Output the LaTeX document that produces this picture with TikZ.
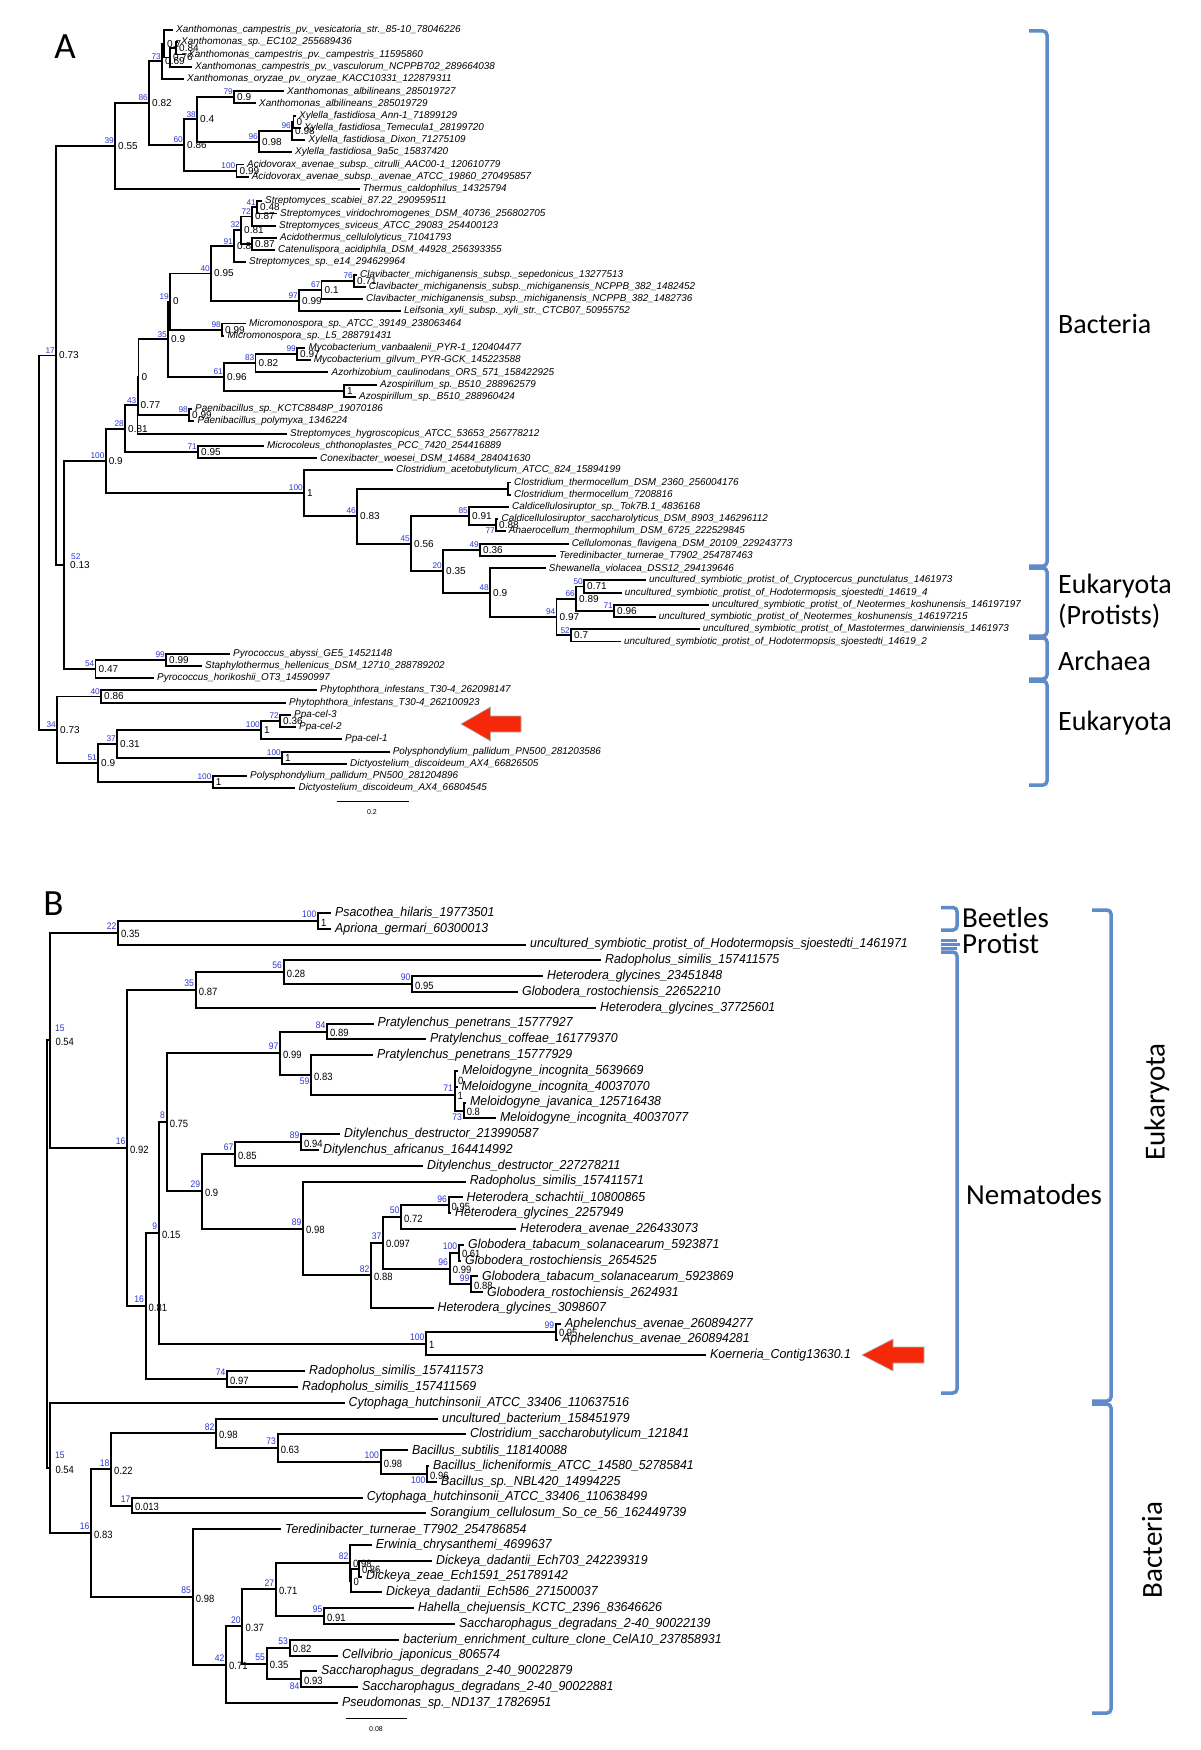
\documentclass[tikz,border=0pt]{standalone}
\usepackage{fontspec}
\setmainfont{Liberation Sans}
\newfontfamily\lsA{Liberation Sans}
\newfontfamily\lsB[FakeStretch=0.95]{Liberation Sans}
\newfontfamily\lsN[FakeStretch=0.9]{Liberation Sans}
\newfontfamily\calib{Carlito}
\definecolor{bslab}{RGB}{45,55,215}
\definecolor{brkc}{RGB}{95,140,200}
\definecolor{arrred}{RGB}{246,40,10}
\tikzset{
 brA/.style={line width=1.9pt,line cap=rect},
 brB/.style={line width=2pt,line cap=rect},
 leafa/.style={anchor=west,inner sep=0pt,xshift=4pt,font=\lsA\fontsize{9.9}{10}\selectfont\itshape},
 leafb/.style={anchor=west,inner sep=0pt,xshift=5pt,font=\lsB\fontsize{13}{13}\selectfont\itshape},
 bsa/.style={anchor=south east,inner sep=0pt,xshift=-1pt,yshift=2pt,text=bslab,font=\lsA\fontsize{8.3}{8.3}\selectfont},
 ppa/.style={anchor=west,inner sep=0pt,xshift=3pt,font=\lsA\fontsize{10}{10}\selectfont},
 bsb/.style={anchor=south east,inner sep=0pt,xshift=-1.5pt,yshift=3pt,text=bslab,font=\lsN\fontsize{9.5}{9.5}\selectfont},
 ppb/.style={anchor=west,inner sep=0pt,xshift=3pt,yshift=-1.5pt,font=\lsN\fontsize{10.5}{10.5}\selectfont},
 grpa/.style={inner sep=0pt,font=\calib\fontsize{28}{31}\selectfont},
 grpb/.style={inner sep=0pt,font=\calib\fontsize{29}{31}\selectfont},
 brk/.style={draw=brkc,line width=3.5pt,rounded corners=4pt},
 arr/.style={fill=arrred,draw=black!30,line width=0.6pt},
 bso/.style={},ppo/.style={}
}
\newcommand\tleaf[4]{%
  \pgfmathsetmacro\yy{\rowzero+(#3-1)*\rowstep}%
  \expandafter\xdef\csname Y@#1\endcsname{\yy}%
  \coordinate (#1) at (#2,\yy);%
  \node[leaf] (#1l) at (#1) {#4};%
}
\newcommand\tnode[8][]{%
  \tikzset{bso/.style={},ppo/.style={},#1}%
  \edef\ya{\csname Y@#4\endcsname}\edef\yb{\csname Y@#5\endcsname}%
  \pgfmathsetmacro\yy{(\ya+\yb)/2}%
  \expandafter\xdef\csname Y@#2\endcsname{\yy}%
  \coordinate (#2) at (#3,\yy);%
  \draw[br] (#2 |- #4) -- (#2 |- #5);%
  \foreach \ch in {#6}{\draw[br] (#2 |- \ch) -- (\ch);}%
  \def\tmp{#7}\ifx\tmp\empty\else\node[bs,bso] (#2b) at (#2) {#7};\fi
  \def\tmp{#8}\ifx\tmp\empty\else\node[pp,ppo] (#2p) at (#2) {#8};\fi
}
\begin{document}
\begin{tikzpicture}[x=1pt,y=-1pt]
\fill[white] (0,0) rectangle (1200,1750);
\useasboundingbox (0,0) rectangle (1200,1750);

% ================= PANEL A =================
\def\rowzero{30}\def\rowstep{12.23}
\tikzset{leaf/.style={leafa},bs/.style={bsa},pp/.style={ppa},br/.style={brA}}
\node[inner sep=0pt,font=\calib\fontsize{37}{37}\selectfont] (labA) at (65,47) {A};

\tleaf{a1}{172}{1}{Xanthomonas\_campestris\_pv.\_vesicatoria\_str.\_85-10\_78046226}
\tleaf{a2}{177}{2}{Xanthomonas\_sp.\_EC102\_255689436}
\tleaf{a3}{184}{3}{Xanthomonas\_campestris\_pv.\_campestris\_11595860}
\tleaf{a4}{191}{4}{Xanthomonas\_campestris\_pv.\_vasculorum\_NCPPB702\_289664038}
\tleaf{a5}{183}{5}{Xanthomonas\_oryzae\_pv.\_oryzae\_KACC10331\_122879311}
\tleaf{a6}{283}{6}{Xanthomonas\_albilineans\_285019727}
\tleaf{a7}{255}{7}{Xanthomonas\_albilineans\_285019729}
\tleaf{a8}{295}{8}{Xylella\_fastidiosa\_Ann-1\_71899129}
\tleaf{a9}{300}{9}{Xylella\_fastidiosa\_Temecula1\_28199720}
\tleaf{a10}{304.5}{10}{Xylella\_fastidiosa\_Dixon\_71275109}
\tleaf{a11}{291}{11}{Xylella\_fastidiosa\_9a5c\_15837420}
\tleaf{a12}{243}{12}{Acidovorax\_avenae\_subsp.\_citrulli\_AAC00-1\_120610779}
\tleaf{a13}{247.6}{13}{Acidovorax\_avenae\_subsp.\_avenae\_ATCC\_19860\_270495857}
\tleaf{a14}{358.7}{14}{Thermus\_caldophilus\_14325794}
\tleaf{a15}{261}{15}{Streptomyces\_scabiei\_87.22\_290959511}
\tleaf{a16}{276}{16}{Streptomyces\_viridochromogenes\_DSM\_40736\_256802705}
\tleaf{a17}{275}{17}{Streptomyces\_sviceus\_ATCC\_29083\_254400123}
\tleaf{a18}{276}{18}{Acidothermus\_cellulolyticus\_71041793}
\tleaf{a19}{274}{19}{Catenulispora\_acidiphila\_DSM\_44928\_256393355}
\tleaf{a20}{245}{20}{Streptomyces\_sp.\_e14\_294629964}
\tleaf{a21}{356}{21}{Clavibacter\_michiganensis\_subsp.\_sepedonicus\_13277513}
\tleaf{a22}{364.7}{22}{Clavibacter\_michiganensis\_subsp.\_michiganensis\_NCPPB\_382\_1482452}
\tleaf{a23}{362}{23}{Clavibacter\_michiganensis\_subsp.\_michiganensis\_NCPPB\_382\_1482736}
\tleaf{a24}{400}{24}{Leifsonia\_xyli\_subsp.\_xyli\_str.\_CTCB07\_50955752}
\tleaf{a25}{245}{25}{Micromonospora\_sp.\_ATCC\_39149\_238063464}
\tleaf{a26}{223.5}{26}{Micromonospora\_sp.\_L5\_288791431}
\tleaf{a27}{304.5}{27}{Mycobacterium\_vanbaalenii\_PYR-1\_120404477}
\tleaf{a28}{309.6}{28}{Mycobacterium\_gilvum\_PYR-GCK\_145223588}
\tleaf{a29}{327.5}{29}{Azorhizobium\_caulinodans\_ORS\_571\_158422925}
\tleaf{a30}{376}{30}{Azospirillum\_sp.\_B510\_288962579}
\tleaf{a31}{355}{31}{Azospirillum\_sp.\_B510\_288960424}
\tleaf{a32}{191}{32}{Paenibacillus\_sp.\_KCTC8848P\_19070186}
\tleaf{a33}{193.4}{33}{Paenibacillus\_polymyxa\_1346224}
\tleaf{a34}{286}{34}{Streptomyces\_hygroscopicus\_ATCC\_53653\_256778212}
\tleaf{a35}{263}{35}{Microcoleus\_chthonoplastes\_PCC\_7420\_254416889}
\tleaf{a36}{316}{36}{Conexibacter\_woesei\_DSM\_14684\_284041630}
\tleaf{a37}{392}{37}{Clostridium\_acetobutylicum\_ATCC\_824\_15894199}
\tleaf{a38}{510}{38}{Clostridium\_thermocellum\_DSM\_2360\_256004176}
\tleaf{a39}{510}{39}{Clostridium\_thermocellum\_7208816}
\tleaf{a40}{508}{40}{Caldicellulosiruptor\_sp.\_Tok7B.1\_4836168}
\tleaf{a41}{497.5}{41}{Caldicellulosiruptor\_saccharolyticus\_DSM\_8903\_146296112}
\tleaf{a42}{504.7}{42}{Anaerocellum\_thermophilum\_DSM\_6725\_222529845}
\tleaf{a43}{567.6}{43}{Cellulomonas\_flavigena\_DSM\_20109\_229243773}
\tleaf{a44}{555}{44}{Teredinibacter\_turnerae\_T7902\_254787463}
\tleaf{a45}{544.7}{45}{Shewanella\_violacea\_DSS12\_294139646}
\tleaf{a46}{645}{46}{uncultured\_symbiotic\_protist\_of\_Cryptocercus\_punctulatus\_1461973}
\tleaf{a47}{620.7}{47}{uncultured\_symbiotic\_protist\_of\_Hodotermopsis\_sjoestedti\_14619\_4}
\tleaf{a48}{708}{48}{uncultured\_symbiotic\_protist\_of\_Neotermes\_koshunensis\_146197197}
\tleaf{a49}{654.7}{49}{uncultured\_symbiotic\_protist\_of\_Neotermes\_koshunensis\_146197215}
\tleaf{a50}{698.7}{50}{uncultured\_symbiotic\_protist\_of\_Mastotermes\_darwiniensis\_1461973}
\tleaf{a51}{620}{51}{uncultured\_symbiotic\_protist\_of\_Hodotermopsis\_sjoestedti\_14619\_2}
\tleaf{a52}{229}{52}{Pyrococcus\_abyssi\_GE5\_14521148}
\tleaf{a53}{201}{53}{Staphylothermus\_hellenicus\_DSM\_12710\_288789202}
\tleaf{a54}{153}{54}{Pyrococcus\_horikoshii\_OT3\_14590997}
\tleaf{a55}{316}{55}{Phytophthora\_infestans\_T30-4\_262098147}
\tleaf{a56}{285}{56}{Phytophthora\_infestans\_T30-4\_262100923}
\tleaf{a57}{290}{57}{Ppa-cel-3}
\tleaf{a58}{295}{58}{Ppa-cel-2}
\tleaf{a59}{341}{59}{Ppa-cel-1}
\tleaf{a60}{388.6}{60}{Polysphondylium\_pallidum\_PN500\_281203586}
\tleaf{a61}{346}{61}{Dictyostelium\_discoideum\_AX4\_66826505}
\tleaf{a62}{246}{62}{Polysphondylium\_pallidum\_PN500\_281204896}
\tleaf{a63}{294.4}{63}{Dictyostelium\_discoideum\_AX4\_66804545}

\tnode{pW}{176}{a2}{a3}{a2,a3}{}{0.84}
\tnode{pX}{170}{pW}{a4}{pW,a4}{}{0.76}
\tnode{pY}{164}{a1}{pX}{a1,pX}{}{0.7}
\tnode{p73}{162}{pY}{a5}{pY,a5}{73}{0.69}
\tnode{p79}{234}{a6}{a7}{a6,a7}{79}{0.9}
\tnode{pC1}{293.5}{a8}{a9}{a8,a9}{}{0}
\tnode{p96b}{292}{pC1}{a10}{pC1,a10}{96}{0.98}
\tnode{p96a}{259}{p96b}{a11}{p96b,a11}{96}{0.98}
\tnode{p38}{197}{p79}{p96a}{p79,p96a}{38}{0.4}
\tnode{p100ac}{236.5}{a12}{a13}{a12,a13}{100}{0.99}
\tnode{p60}{184}{p38}{p100ac}{p38,p100ac}{60}{0.86}
\tnode{p86}{149}{p73}{p60}{p73,p60}{86}{0.82}
\tnode{p39}{115}{p86}{a14}{p86,a14}{39}{0.55}
\tnode{p41}{257}{a15}{a16}{a15,a16}{41}{0.48}
\tnode{p72}{252}{p41}{a17}{p41,a17}{72}{0.87}
\tnode{p87}{252}{a18}{a19}{a18,a19}{}{0.87}
\tnode{p32}{241}{p72}{p87}{p72,p87}{32}{0.81}
\tnode{p91}{234}{p32}{a20}{p32,a20}{91}{0.8}
\tnode{p76}{354}{a21}{a22}{a21,a22}{76}{0.71}
\tnode{p67}{321.5}{p76}{a23}{p76,a23}{67}{0.1}
\tnode{p97}{299}{p67}{a24}{p67,a24}{97}{0.99}
\tnode{p40}{211}{p91}{p97}{p91,p97}{40}{0.95}
\tnode{p98}{222}{a25}{a26}{a25,a26}{98}{0.99}
\tnode{p19}{170}{p40}{p98}{p40,p98}{19}{0}
\tnode{p99}{297}{a27}{a28}{a27,a28}{99}{0.97}
\tnode{p83}{255.5}{p99}{a29}{p99,a29}{83}{0.82}
\tnode{p1n}{344}{a30}{a31}{a30,a31}{}{1}
\tnode{p61}{224}{p83}{p1n}{p83,p1n}{61}{0.96}
\tnode{p35}{168}{p19}{p61}{p19,p61}{35}{0.9}
\tnode{p98b}{189}{a32}{a33}{a32,a33}{98}{0.99}
\tnode{pZ}{138.5}{p35}{p98b}{p35,p98b}{}{0}
\tnode{p43}{137.5}{pZ}{a34}{pZ,a34}{43}{0.77}
\tnode{p71}{198}{a35}{a36}{a35,a36}{71}{0.95}
\tnode{p28}{125}{p43}{p71}{p43,p71}{28}{0.81}
\tnode{pct}{508}{a38}{a39}{a38,a39}{}{}
\tnode[bso/.style={anchor=north east,yshift=-4pt}]{p77}{496}{a41}{a42}{a41,a42}{77}{0.88}
\tnode{p85}{469}{a40}{p77}{a40,p77}{85}{0.91}
\tnode{p49}{480}{a43}{a44}{a43,a44}{49}{0.36}
\tnode{p50}{584}{a46}{a47}{a46,a47}{50}{0.71}
\tnode{p71b}{614}{a48}{a49}{a48,a49}{71}{0.96}
\tnode{p66}{576}{p50}{p71b}{p50,p71b}{66}{0.89}
\tnode{p52b}{571}{a50}{a51}{a50,a51}{52}{0.7}
\tnode{p94}{556.5}{p66}{p52b}{p66,p52b}{94}{0.97}
\tnode{p48}{490}{a45}{p94}{a45,p94}{48}{0.9}
\tnode{p20}{443}{p49}{p48}{p49,p48}{20}{0.35}
\tnode{p45}{411}{p85}{p20}{p85,p20}{45}{0.56}
\tnode{p46}{357}{pct}{p45}{pct,p45}{46}{0.83}
\tnode{p100b}{304}{a37}{p46}{a37,p46}{100}{1}
\tnode{p100}{105.6}{p28}{p100b}{p28,p100b}{100}{0.9}
\tnode{p99c}{166}{a52}{a53}{a52,a53}{99}{0.99}
\tnode{p54}{95.5}{p99c}{a54}{p99c,a54}{54}{0.47}
\tnode[bso/.style={anchor=south west,xshift=8pt,yshift=3pt},ppo/.style={xshift=3pt}]{p52}{64}{p100}{p54}{p100,p54}{52}{0.13}
\tnode{p17}{56}{p39}{p52}{p39,p52}{17}{0.73}
\tnode{p40b}{101}{a55}{a56}{a55,a56}{40}{0.86}
\tnode{p72b}{280}{a57}{a58}{a57,a58}{72}{0.36}
\tnode{p100c}{261}{p72b}{a59}{p72b,a59}{100}{1}
\tnode{p100e}{282}{a60}{a61}{a60,a61}{100}{1}
\tnode{p37}{117}{p100c}{p100e}{p100c,p100e}{37}{0.31}
\tnode{p100d}{212.6}{a62}{a63}{a62,a63}{100}{1}
\tnode{p51}{98}{p37}{p100d}{p37,p100d}{51}{0.9}
\tnode{p34}{57}{p40b}{p51}{p40b,p51}{34}{0.73}
\tnode{proot}{39}{p17}{p34}{p17,p34}{}{}

% scale bar A
\coordinate (sa1) at (336.5,801.7);
\coordinate (sa2) at (408.6,801.7);
\draw[line width=0.8pt] (sa1) -- (sa2);
\node[inner sep=0pt,font=\lsA\fontsize{7}{7}\selectfont] (sal) at (372,812) {0.2};

% arrow A
\path[arr] (461,724) -- (490.5,707) -- (490.5,716) -- (521,716) -- (521,732) -- (490.5,732) -- (490.5,741) -- cycle;

% brackets A
\draw[brk] (1029,31) -- (1047,31) -- (1047,566) -- (1029,566);
\draw[brk] (1029,568) -- (1047,568) -- (1047,636) -- (1029,636);
\draw[brk] (1029,638) -- (1047,638) -- (1047,679) -- (1029,679);
\draw[brk] (1029,681) -- (1047,681) -- (1047,785) -- (1029,785);
\node[grpa,anchor=west] (gBac) at (1058,324) {Bacteria};
\node[grpa,anchor=west,align=left] (gEP) at (1058,601) {Eukaryota\\(Protists)};
\node[grpa,anchor=west] (gArc) at (1058,661) {Archaea};
\node[grpa,anchor=west] (gEuk) at (1058,723) {Eukaryota};

% ================= PANEL B =================
\def\rowzero{913}\def\rowstep{15.8}
\tikzset{leaf/.style={leafb},bs/.style={bsb},pp/.style={ppb},br/.style={brB}}
\node[inner sep=0pt,font=\calib\fontsize{37}{37}\selectfont] (labB) at (53.5,904) {B};

\tleaf{b1}{330}{1}{Psacothea\_hilaris\_19773501}
\tleaf{b2}{330}{2}{Apriona\_germari\_60300013}
\tleaf{b3}{525}{3}{uncultured\_symbiotic\_protist\_of\_Hodotermopsis\_sjoestedti\_1461971}
\tleaf{b4}{600}{4}{Radopholus\_similis\_157411575}
\tleaf{b5}{542}{5}{Heterodera\_glycines\_23451848}
\tleaf{b6}{517}{6}{Globodera\_rostochiensis\_22652210}
\tleaf{b7}{595}{7}{Heterodera\_glycines\_37725601}
\tleaf{b8}{372.5}{8}{Pratylenchus\_penetrans\_15777927}
\tleaf{b9}{425}{9}{Pratylenchus\_coffeae\_161779370}
\tleaf{b10}{372}{10}{Pratylenchus\_penetrans\_15777929}
\tleaf{b11}{457}{11}{Meloidogyne\_incognita\_5639669}
\tleaf{b12}{456.5}{12}{Meloidogyne\_incognita\_40037070}
\tleaf{b13}{465}{13}{Meloidogyne\_javanica\_125716438}
\tleaf{b14}{495}{14}{Meloidogyne\_incognita\_40037077}
\tleaf{b15}{339}{15}{Ditylenchus\_destructor\_213990587}
\tleaf{b16}{318}{16}{Ditylenchus\_africanus\_164414992}
\tleaf{b17}{422}{17}{Ditylenchus\_destructor\_227278211}
\tleaf{b18}{464.6}{18}{Radopholus\_similis\_157411571}
\tleaf{b19}{461.5}{19}{Heterodera\_schachtii\_10800865}
\tleaf{b20}{450}{20}{Heterodera\_glycines\_2257949}
\tleaf{b21}{515}{21}{Heterodera\_avenae\_226433073}
\tleaf{b22}{463}{22}{Globodera\_tabacum\_solanacearum\_5923871}
\tleaf{b23}{460}{23}{Globodera\_rostochiensis\_2654525}
\tleaf{b24}{477}{24}{Globodera\_tabacum\_solanacearum\_5923869}
\tleaf{b25}{482}{25}{Globodera\_rostochiensis\_2624931}
\tleaf{b26}{432.5}{26}{Heterodera\_glycines\_3098607}
\tleaf{b27}{560}{27}{Aphelenchus\_avenae\_260894277}
\tleaf{b28}{557}{28}{Aphelenchus\_avenae\_260894281}
\tleaf{b29}{705}{29}{Koerneria\_Contig13630.1}
\tleaf{b30}{304}{30}{Radopholus\_similis\_157411573}
\tleaf{b31}{297}{31}{Radopholus\_similis\_157411569}
\tleaf{b32}{343.5}{32}{Cytophaga\_hutchinsonii\_ATCC\_33406\_110637516}
\tleaf{b33}{437}{33}{uncultured\_bacterium\_158451979}
\tleaf{b34}{465}{34}{Clostridium\_saccharobutylicum\_121841}
\tleaf{b35}{407}{35}{Bacillus\_subtilis\_118140088}
\tleaf{b36}{428}{36}{Bacillus\_licheniformis\_ATCC\_14580\_52785841}
\tleaf{b37}{436}{37}{Bacillus\_sp.\_NBL420\_14994225}
\tleaf{b38}{361.6}{38}{Cytophaga\_hutchinsonii\_ATCC\_33406\_110638499}
\tleaf{b39}{425}{39}{Sorangium\_cellulosum\_So\_ce\_56\_162449739}
\tleaf{b40}{280}{40}{Teredinibacter\_turnerae\_T7902\_254786854}
\tleaf{b41}{370.7}{41}{Erwinia\_chrysanthemi\_4699637}
\tleaf{b42}{431}{42}{Dickeya\_dadantii\_Ech703\_242239319}
\tleaf{b43}{361}{43}{Dickeya\_zeae\_Ech1591\_251789142}
\tleaf{b44}{381}{44}{Dickeya\_dadantii\_Ech586\_271500037}
\tleaf{b45}{413}{45}{Hahella\_chejuensis\_KCTC\_2396\_83646626}
\tleaf{b46}{454}{46}{Saccharophagus\_degradans\_2-40\_90022139}
\tleaf{b47}{398}{47}{bacterium\_enrichment\_culture\_clone\_CelA10\_237858931}
\tleaf{b48}{337}{48}{Cellvibrio\_japonicus\_806574}
\tleaf{b49}{316}{49}{Saccharophagus\_degradans\_2-40\_90022879}
\tleaf{b50}{357}{50}{Saccharophagus\_degradans\_2-40\_90022881}
\tleaf{b51}{337}{51}{Pseudomonas\_sp.\_ND137\_17826951}

\tnode{q100a}{318}{b1}{b2}{b1,b2}{100}{1}
\tnode{q22}{118}{q100a}{b3}{q100a,b3}{22}{0.35}
\tnode{q90}{412}{b5}{b6}{b5,b6}{90}{0.95}
\tnode{q56}{283.6}{b4}{q90}{b4,q90}{56}{0.28}
\tnode{q35}{195.7}{q56}{b7}{q56,b7}{35}{0.87}
\tnode{q84b}{327}{b8}{b9}{b8,b9}{84}{0.89}
\tnode{qM1}{455}{b11}{b12}{b11,b12}{}{0}
\tnode[bso/.style={anchor=north east,yshift=-6pt}]{qM2}{463.6}{b13}{b14}{b13,b14}{73}{0.8}
\tnode{q71c}{454.5}{qM1}{qM2}{qM1,qM2}{71}{1}
\tnode[bso/.style={anchor=north east,yshift=-6pt}]{q59}{311}{b10}{q71c}{b10,q71c}{59}{0.83}
\tnode{q97b}{280}{q84b}{q59}{q84b,q59}{97}{0.99}
\tnode{q89b}{301}{b15}{b16}{b15,b16}{89}{0.94}
\tnode{q67b}{235}{q89b}{b17}{q89b,b17}{67}{0.85}
\tnode{q96d}{448.5}{b19}{b20}{b19,b20}{96}{0.95}
\tnode{q50b}{401}{q96d}{b21}{q96d,b21}{50}{0.72}
\tnode{q100i}{458.8}{b22}{b23}{b22,b23}{100}{0.61}
\tnode{q99d}{471}{b24}{b25}{b24,b25}{99}{0.88}
\tnode{q96c}{449.7}{q100i}{q99d}{q100i,q99d}{96}{0.99}
\tnode{q37b}{383}{q50b}{q96c}{q50b,q96c}{37}{0.097}
\tnode{q82c}{371}{q37b}{b26}{q37b,b26}{82}{0.88}
\tnode{q89}{303}{b18}{q82c}{b18,q82c}{89}{0.98}
\tnode{q29}{201.8}{q67b}{q89}{q67b,q89}{29}{0.9}
\tnode{q8}{166.6}{q97b}{q29}{q97b,q29}{8}{0.75}
\tnode{q99b}{555.8}{b27}{b28}{b27,b28}{99}{0.95}
\tnode{q100h}{426}{q99b}{b29}{q99b,b29}{100}{1}
\tnode{q9}{158.8}{q8}{q100h}{q8,q100h}{9}{0.15}
\tnode{q74}{227}{b30}{b31}{b30,b31}{74}{0.97}
\tnode{q16c}{145.5}{q9}{q74}{q9,q74}{16}{0.81}
\tnode{q16}{127}{q35}{q16c}{q35,q16c}{16}{0.92}
\tnode[bso/.style={anchor=south west,xshift=6pt,yshift=6pt},ppo/.style={xshift=2pt}]{q15}{50.3}{q22}{q16}{q22,q16}{15}{0.54}

\tnode[bso/.style={anchor=north east,yshift=-6pt}]{q100g}{427}{b36}{b37}{b36,b37}{100}{0.96}
\tnode{q100f}{380.6}{b35}{q100g}{b35,q100g}{100}{0.98}
\tnode{q73b}{277.6}{b34}{q100f}{b34,q100f}{73}{0.63}
\tnode{q82}{216}{b33}{q73b}{b33,q73b}{82}{0.98}
\tnode{q17b}{132}{b38}{b39}{b38,b39}{17}{0.013}
\tnode{q18}{111}{q82}{q17b}{q82,q17b}{18}{0.22}
\tnode{qX2}{358.8}{b42}{b43}{b42,b43}{}{0.86}
\tnode{qX1}{350.5}{qX2}{b44}{qX2,b44}{}{0}
\tnode{q82b}{350}{b41}{qX1}{b41,qX1}{82}{0.98}
\tnode{q95}{324}{b45}{b46}{b45,b46}{95}{0.91}
\tnode{q27}{275.8}{q82b}{q95}{q82b,q95}{27}{0.71}
\tnode{q53}{289.7}{b47}{b48}{b47,b48}{53}{0.82}
\tnode[bso/.style={anchor=north east,yshift=-6pt}]{q84}{301}{b49}{b50}{b49,b50}{84}{0.93}
\tnode{q55}{266.7}{q53}{q84}{q53,q84}{55}{0.35}
\tnode{q20b}{242.4}{q27}{q55}{q27,q55}{20}{0.37}
\tnode{q42}{226}{q20b}{b51}{q20b,b51}{42}{0.71}
\tnode{q85b}{192.7}{b40}{q42}{b40,q42}{85}{0.98}
\tnode{q16b}{91}{q18}{q85b}{q18,q85b}{16}{0.83}
\tnode[bso/.style={anchor=south west,xshift=6pt,yshift=6pt},ppo/.style={xshift=2pt}]{q15b}{50.3}{b32}{q16b}{b32,q16b}{15}{0.54}
\tnode{qroot}{47.3}{q15}{q15b}{q15,q15b}{}{}

% scale bar B
\coordinate (sb1) at (345.5,1718.3);
\coordinate (sb2) at (407.3,1718.3);
\draw[line width=0.8pt] (sb1) -- (sb2);
\node[inner sep=0pt,font=\lsA\fontsize{7}{7}\selectfont] (sbl) at (376,1729) {0.08};

% arrow B
\path[arr] (862,1355) -- (893,1339) -- (893,1347) -- (924,1347) -- (924,1363) -- (893,1363) -- (893,1371) -- cycle;

% brackets B
\draw[brk] (941,907.5) -- (957,907.5) -- (957,930) -- (941,930);
\draw[draw=brkc,line width=2.2pt] (941,940.5) -- (957,940.5);
\draw[draw=brkc,line width=2.2pt] (941,944.5) -- (960,944.5);
\draw[draw=brkc,line width=2.2pt] (941,948.5) -- (957,948.5);
\draw[brk] (941,952) -- (957,952) -- (957,1393) -- (941,1393);
\draw[brk] (1092,910) -- (1111,910) -- (1111,1401) -- (1092,1401);
\draw[brk] (1092,1404) -- (1111,1404) -- (1111,1713) -- (1092,1713);
\node[grpb,anchor=west] (gBee) at (962,918) {Beetles};
\node[grpb,anchor=west] (gPro) at (962,944) {Protist};
\node[grpb,anchor=west] (gNem) at (966,1195) {Nematodes};
\node[grpb,rotate=90] (gEukB) at (1157,1102) {Eukaryota};
\node[grpb,rotate=90] (gBacB) at (1152,1550) {Bacteria};
\end{tikzpicture}
\end{document}
